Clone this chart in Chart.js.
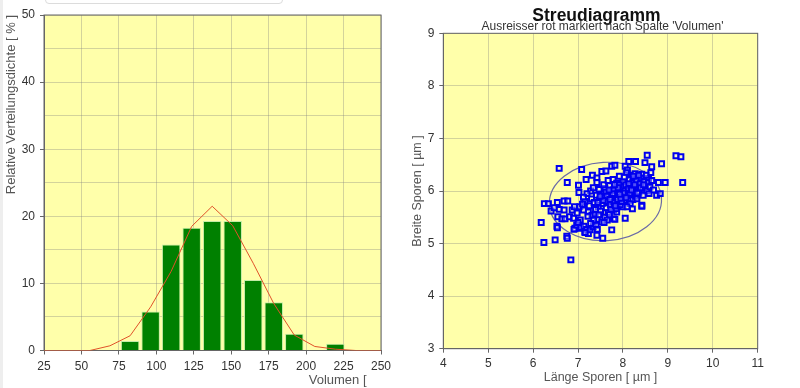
<!DOCTYPE html>
<html lang="de">
<head>
<meta charset="UTF-8">
<title>Verteilung und Streudiagramm</title>
<script src="https://cdn.jsdelivr.net/npm/chart.js"></script>
<style>
  body { margin:0; background:#fff; width:800px; height:388px; overflow:hidden; position:relative; }
  .box { position:absolute; top:0; width:400px; height:388px; }
  #topBox { position:absolute; left:45px; top:-10px; width:236px; height:12px; border:1px solid #dcdcdc; border-radius:4px; }
  #edge { position:absolute; left:0; top:0; width:3px; height:388px; background:#eeeeee; }
</style>
</head>
<body>
<div id="edge"></div>
<div id="topBox"></div>
<div class="box" style="left:0"><canvas id="histChart"></canvas></div>
<div class="box" style="left:400px"><canvas id="scatterChart"></canvas></div>
<script>
// Histogramm: Klassenmitten und relative Dichte (%)
const binCenters = [82.5, 96.2, 109.9, 123.6, 137.3, 151.0, 164.7, 178.4, 192.1, 205.8, 219.5];
const binValues  = [1.4, 5.8, 15.8, 18.3, 19.3, 19.3, 10.5, 7.2, 2.5, 0, 1.0];

// angepasste Dichtekurve (rot)
const curveX = [25, 55.7, 69.0, 82.5, 96.2, 109.9, 123.6, 137.3, 151.0, 164.7, 178.4, 192.1, 205.8, 219.5, 233.2, 250];
const curveY = [0, 0, 0.7, 2.2, 6.5, 11.8, 18.5, 21.5, 18.6, 13.0, 7.0, 2.3, 0.6, 0.2, 0, 0];

// Streudiagramm: [Länge, Breite] in µm
const sporePoints = [
  [6.58,6.43],[7.08,6.41],[7.32,6.30],[7.42,6.25],[7.42,6.16],[7.18,6.22],[6.76,6.16],[7.01,6.11],
  [7.02,5.97],[7.53,6.37],[7.62,6.38],[7.75,6.47],
  [8.54,6.68],[9.18,6.67],[9.29,6.65],[8.28,6.56],[8.13,6.56],[8.49,6.54],[8.64,6.46],[8.86,6.52],
  [8.05,6.47],[7.82,6.49],[8.10,6.40],[8.16,6.30],[8.27,6.33],[8.33,6.27],[8.42,6.32],[8.57,6.24],
  [8.79,6.16],[8.94,6.16],[9.33,6.16],[8.75,5.92],[8.83,5.95],[8.42,5.73],[8.16,5.83],[8.22,5.84],
  [6.25,5.76],[6.34,5.76],[6.54,5.78],[6.69,5.81],[6.77,5.81],
  [6.40,5.62],[6.47,5.68],[6.58,5.65],[6.69,5.64],[6.87,5.64],[6.55,5.51],[6.64,5.47],[6.71,5.47],
  [6.81,5.51],[6.53,5.33],[6.54,5.30],
  [6.18,5.40],[6.24,5.02],[6.49,5.07],[6.75,5.14],[6.76,5.10],[6.84,4.69],[6.93,5.29],[7.04,5.29],
  [7.15,5.22],[7.23,5.19],[7.42,5.16],[7.55,5.10],[7.75,5.26],
  [6.91,5.27],[6.97,5.35],[7.06,5.31],[7.13,5.33],[7.19,5.27],[7.16,5.21],[7.27,5.26],[7.34,5.32],
  [7.40,5.35],[7.43,5.27],
  [7.79,5.64],[7.86,5.70],[8.00,5.70],[8.21,5.66],[8.42,5.71],[7.79,5.47],[8.05,5.48],
  [7.04,5.70],[7.12,5.64],[7.23,5.60],[7.31,5.54],[7.38,5.56],[7.43,5.46],[7.53,5.41],[7.60,5.50],
  [7.65,5.45],[7.82,5.46],[7.67,5.59],[7.86,5.60],
  [7.25,5.72],[7.30,5.85],[7.36,5.78],[7.41,5.92],[7.45,5.70],[7.48,5.83],[7.52,5.95],[7.55,5.76],
  [7.58,5.88],[7.60,6.05],[7.63,5.68],[7.66,5.80],[7.68,5.93],[7.70,6.10],[7.72,5.74],[7.74,5.86],
  [7.76,6.00],[7.78,6.22],[7.80,5.78],[7.82,5.92],[7.84,6.05],[7.86,6.15],[7.88,5.84],[7.90,5.97],
  [7.92,6.28],[7.94,5.74],[7.96,6.08],[7.98,5.90],[8.00,6.18],[8.02,5.82],[8.04,6.00],[8.06,6.12],
  [8.08,6.35],[8.10,5.92],[8.12,6.04],[8.14,6.22],[8.16,5.76],[8.18,6.10],[8.20,5.98],[8.22,6.16],
  [8.25,6.05],[8.28,5.90],[8.30,6.20],[8.33,6.08],[8.36,5.98],[8.38,6.14],[8.40,6.25],[8.44,6.05],
  [8.47,6.18],[8.50,6.10],[8.53,6.00],[8.56,6.16],[8.60,6.08],[8.64,6.20],[8.68,6.02],
  [7.28,6.00],[7.34,6.06],[7.39,5.65],[7.47,6.03],[7.50,5.62],[7.57,6.12],[7.62,5.98],[7.67,6.20],
  [7.73,5.65],[7.79,6.02],[7.85,5.66],[7.91,6.12],[7.97,5.80],[8.03,6.26],[8.09,5.70],[8.15,5.95],
  [8.23,6.28],[8.31,5.85],[8.35,6.30],[8.45,5.92],[8.52,6.30],[8.58,5.95],[8.62,6.35],
  [7.15,5.80],[7.20,5.95],[7.10,5.75],[7.22,5.52],[7.35,5.45],[7.46,5.55],[7.58,5.40],[7.70,5.55],
  [7.28,5.38],[7.05,5.45],[6.98,5.58],[6.92,5.70],[7.12,5.88],[7.00,5.40],[6.90,5.48],
  [7.64,5.90],[7.71,5.84],[7.77,5.95],[7.83,5.72],[7.89,6.06],[7.95,5.86],[8.01,5.96],[8.07,5.87],
  [8.13,6.14],[8.19,6.02],[8.26,6.12],[8.32,5.96],[8.39,6.06],[8.46,6.12],[7.56,5.82],[7.49,5.90],
  [7.44,5.78],[7.69,6.02],[7.81,6.12],[7.93,5.94]
];

// Konfidenzellipse: Mitte, Halbachsen (in Achseneinheiten), Drehung
const ellipseCenter = [7.61, 5.80];
const ellipseRadius = [1.25, 0.745];
const ellipseTilt = -0.06;

const scatterTitle = 'Streudiagramm';
const scatterSubtitle = "Ausreisser rot markiert nach Spalte 'Volumen'";

const fontFamily = '"Liberation Sans", Arial, sans-serif';
const gridColor = 'rgba(130,130,130,0.35)';
const axisColor = '#666';
Chart.defaults.font.family = fontFamily;
Chart.defaults.animation = false;

// gelber Plotbereich mit Rahmen
const plotFrame = {
  id: 'plotFrame',
  beforeDraw(chart) {
    const a = chart.chartArea, c = chart.ctx;
    c.save();
    c.fillStyle = '#ffffaa';
    c.fillRect(a.left, a.top, a.right - a.left, a.bottom - a.top);
    c.restore();
  },
  beforeDatasetsDraw(chart) {
    const a = chart.chartArea, c = chart.ctx;
    c.save();
    c.strokeStyle = axisColor;
    c.lineWidth = 1;
    c.strokeRect(a.left, a.top, a.right - a.left, a.bottom - a.top);
    c.restore();
  }
};

const ellipsePlugin = {
  id: 'ellipse',
  beforeDatasetsDraw(chart) {
    const x = chart.scales.x, y = chart.scales.y, c = chart.ctx;
    const cx = x.getPixelForValue(ellipseCenter[0]);
    const cy = y.getPixelForValue(ellipseCenter[1]);
    const rx = Math.abs(x.getPixelForValue(ellipseCenter[0] + ellipseRadius[0]) - cx);
    const ry = Math.abs(y.getPixelForValue(ellipseCenter[1] + ellipseRadius[1]) - cy);
    c.save();
    c.strokeStyle = '#6a6aa6';
    c.lineWidth = 1.2;
    c.beginPath();
    c.ellipse(cx, cy, rx, ry, ellipseTilt, 0, Math.PI * 2);
    c.stroke();
    c.restore();
  }
};

// Titel über der Mitte des Plotbereichs
const headingPlugin = {
  id: 'heading',
  afterDraw(chart) {
    const a = chart.chartArea, c = chart.ctx;
    const mid = (a.left + a.right) / 2;
    c.save();
    c.textAlign = 'center';
    c.textBaseline = 'alphabetic';
    c.fillStyle = '#111';
    c.font = 'bold 17.5px ' + fontFamily;
    c.fillText(scatterTitle, mid - 4, 20.5);
    c.fillStyle = '#333';
    c.font = '12px ' + fontFamily;
    c.fillText(scatterSubtitle, mid + 2, 29.5);
    c.restore();
  }
};

new Chart(document.getElementById('histChart'), {
  type: 'bar',
  data: {
    datasets: [
      {
        type: 'line',
        data: curveX.map((v, i) => ({ x: v, y: curveY[i] })),
        borderColor: '#e0522a',
        borderWidth: 1,
        pointRadius: 0,
        tension: 0,
        fill: false
      },
      {
        data: binCenters.map((v, i) => ({ x: v, y: binValues[i] })),
        backgroundColor: '#008000',
        borderColor: '#c4eba6',
        borderWidth: 1,
        barPercentage: 0.9,
        categoryPercentage: 1
      }
    ]
  },
  options: {
    responsive: true,
    maintainAspectRatio: false,
    layout: { padding: { top: 15, right: 19, left: 0, bottom: 0 } },
    plugins: { legend: { display: false }, tooltip: { enabled: false } },
    scales: {
      x: {
        type: 'linear', min: 25, max: 250, offset: false,
        ticks: { stepSize: 25, padding: 5, color: '#333', font: { size: 12 } },
        grid: { offset: false, color: gridColor, tickLength: 4, tickColor: axisColor },
        border: { color: axisColor },
        title: { display: true, text: 'Volumen [    ', align: 'end', color: '#555', font: { size: 13 }, padding: { top: 0, bottom: 0 } },
        afterFit(s) { s.height = 37.5; }
      },
      y: {
        min: 0, max: 50,
        ticks: { stepSize: 5, padding: 5, color: '#333', font: { size: 12 },
          callback: v => (v % 10 === 0 ? v : '') },
        grid: { color: gridColor, tickLength: 4,
          tickColor: c => (c.tick && c.tick.value % 10 === 0 ? axisColor : 'rgba(0,0,0,0)') },
        border: { color: axisColor },
        title: { display: true, text: 'Relative Verteilungsdichte [ % ]', align: 'end', color: '#555', font: { size: 13 }, padding: { top: 4, bottom: 0 } },
        afterFit(s) { s.width = 44; }
      }
    }
  },
  plugins: [plotFrame]
});

new Chart(document.getElementById('scatterChart'), {
  type: 'scatter',
  data: {
    datasets: [{
      data: sporePoints.map(p => ({ x: p[0], y: p[1] })),
      pointStyle: 'rect',
      pointRadius: 3.5,
      borderColor: '#0000ee',
      borderWidth: 2,
      backgroundColor: 'rgba(235,235,255,0.35)'
    }]
  },
  options: {
    responsive: true,
    maintainAspectRatio: false,
    layout: { padding: { top: 33.3, right: 42.3, left: 0, bottom: 0 } },
    plugins: { legend: { display: false }, tooltip: { enabled: false } },
    scales: {
      x: {
        type: 'linear', min: 4, max: 11,
        ticks: { stepSize: 1, padding: 4, color: '#333', font: { size: 12 } },
        grid: { color: gridColor, tickLength: 4, tickColor: axisColor },
        border: { color: axisColor },
        title: { display: true, text: 'Länge Sporen [ µm ]', color: '#555', font: { size: 12.5 }, padding: { top: 0, bottom: 3 } },
        afterFit(s) { s.height = 39.3; }
      },
      y: {
        min: 3, max: 9,
        ticks: { stepSize: 1, padding: 5, color: '#333', font: { size: 12 } },
        grid: { color: gridColor, tickLength: 4, tickColor: axisColor },
        border: { color: axisColor },
        title: { display: true, text: 'Breite Sporen [ µm ]', color: '#555', font: { size: 12.5 }, padding: { top: 10, bottom: 0 } },
        afterFit(s) { s.width = 43.3; }
      }
    }
  },
  plugins: [plotFrame, ellipsePlugin, headingPlugin]
});
</script>
</body>
</html>
